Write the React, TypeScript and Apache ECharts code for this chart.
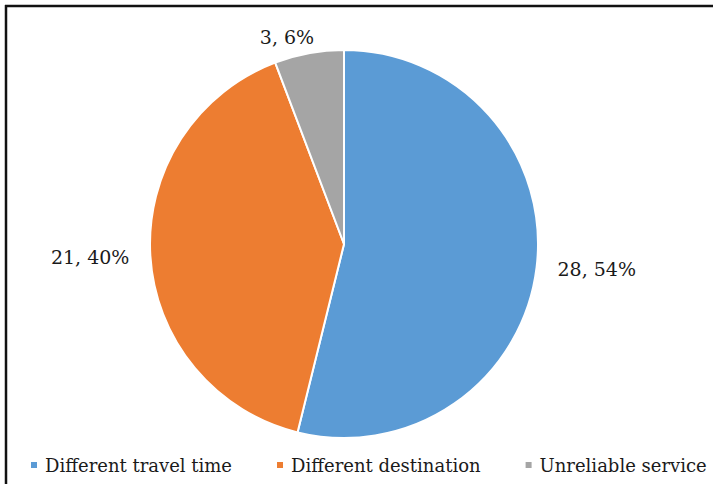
import React, { useEffect, useRef } from "react";
import * as echarts from "echarts";

const categories = ["Different travel time", "Different destination", "Unreliable service"];
const values = [28, 21, 3];
const percents = [54, 40, 6];
const colors = ["#5B9BD5", "#ED7D31", "#A5A5A5"];

export default function App() {
  const ref = useRef<HTMLDivElement>(null);
  useEffect(() => {
    if (!ref.current) return;
    const chart = echarts.init(ref.current, undefined, { renderer: "svg" });
    const font = "DejaVu Serif";
    chart.setOption({
      animation: false,
      backgroundColor: "#ffffff",
      textStyle: { fontFamily: font },
      legend: {
        data: categories,
        left: 29,
        top: 456,
        padding: 0,
        icon: "rect",
        itemWidth: 8,
        itemHeight: 8,
        itemGap: 43,
        textStyle: { fontFamily: font, fontSize: 18, color: "#1a1a1a", padding: [0, 0, 0, 2] },
      },
      graphic: [
        { type: "line", shape: { x1: 5, y1: 6, x2: 713, y2: 6 }, style: { stroke: "#111", lineWidth: 2.5 } },
        { type: "line", shape: { x1: 6, y1: 5, x2: 6, y2: 484 }, style: { stroke: "#111", lineWidth: 2.5 } },
      ],
      series: [
        {
          type: "pie",
          center: [344, 244],
          radius: 194,
          startAngle: 90,
          clockwise: true,
          avoidLabelOverlap: false,
          itemStyle: { borderColor: "#ffffff", borderWidth: 2 },
          label: {
            show: true,
            position: "outside",
            fontFamily: font,
            fontSize: 19,
            color: "#1a1a1a",
            distanceToLabelLine: 5,
            formatter: (p: any) => `${values[p.dataIndex]}, ${percents[p.dataIndex]}%`,
          },
          labelLine: { show: false, length: 16, length2: 0 },
          emphasis: { disabled: true },
          data: categories.map((c, i) => ({
            name: c,
            value: values[i],
            itemStyle: { color: colors[i] },
            label: i === 2 ? { offset: [13, 0] } : undefined,
          })),
        },
      ],
    });
    return () => chart.dispose();
  }, []);
  return (
    <div
      ref={ref}
      style={{ position: "absolute", left: 0, top: 0, width: 713, height: 484 }}
    />
  );
}
